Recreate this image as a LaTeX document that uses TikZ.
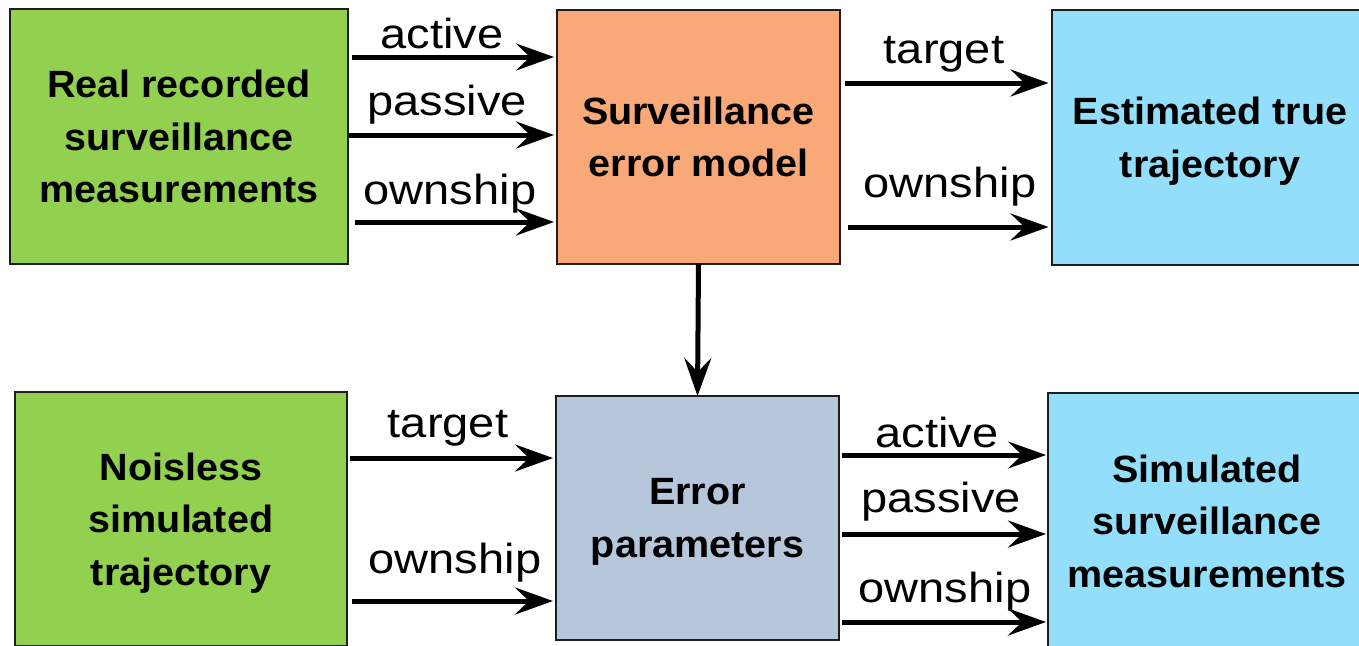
\documentclass[tikz,border=0pt]{standalone}
\usepackage{fontspec}
\usetikzlibrary{arrows.meta}
\newfontfamily\boxfont[FakeStretch=1.04]{Liberation Sans}
\newfontfamily\labfont[FakeStretch=1.12]{Liberation Sans}
\definecolor{cgreen}{HTML}{92D050}
\definecolor{corange}{HTML}{F9A878}
\definecolor{cblue}{HTML}{93DFFB}
\definecolor{cgray}{HTML}{B6C7DB}
\definecolor{cborder}{HTML}{1E1E1E}
\begin{document}
\begin{tikzpicture}[x=1pt,y=-1pt,
  box/.style={draw=cborder,line width=2pt,outer sep=0pt,inner sep=0pt,align=center,text depth=0pt,
    font=\boxfont\bfseries\fontsize{38}{52.5}\selectfont},
  arr/.style={line width=5pt,-{Stealth[length=38pt,width=27pt,inset=14pt]}},
  lab/.style={anchor=base,inner sep=0pt,font=\labfont\fontsize{42}{46}\selectfont}]
\useasboundingbox (0,0) rectangle (1359,645);
\clip (0,0) rectangle (1359,645);
\fill[white] (0,0) rectangle (1359,645);
% boxes
\node[box,fill=cgreen,minimum width=338pt,minimum height=255pt] (A) at (179,136.5) {Real recorded\\surveillance\\measurements};
\node[box,fill=corange,minimum width=283pt,minimum height=254pt] (B) at (698.5,136.5) {Surveillance\\error model};
\node[box,fill=cblue,minimum width=317pt,minimum height=255pt] (C) at (1210,137) {Estimated true\\trajectory};
\node[box,fill=cgreen,minimum width=332pt,minimum height=254pt] (D) at (181,519) {Noisless\\simulated\\trajectory};
\node[box,fill=cgray,minimum width=283pt,minimum height=244pt] (E) at (697.5,518) {Error\\parameters};
\node[box,fill=cblue,minimum width=318pt,minimum height=256pt] (F) at (1207,521) {Simulated\\surveillance\\measurements};
% arrows top-left
\draw[arr] ([xshift=4pt]A.east |- 0,57) -- ([xshift=-3pt]B.west |- 0,57);
\draw[arr] ([xshift=1pt]A.east |- 0,135) -- ([xshift=-3pt]B.west |- 0,135);
\draw[arr] ([xshift=7pt]A.east |- 0,222) -- ([xshift=-3pt]B.west |- 0,222);
\node[lab] (l1) at (442,48) {active};
\node[lab] (l2) at (447,115) {passive};
\node[lab] (l3) at (450,204) {ownship};
% arrows top-right
\draw[arr] ([xshift=5pt]B.east |- 0,83) -- ([xshift=-3pt]C.west |- 0,83);
\draw[arr] ([xshift=8pt]B.east |- 0,227) -- ([xshift=-3pt]C.west |- 0,227);
\node[lab] (l4) at (944,63) {target};
\node[lab] (l5) at (950,197) {ownship};
% vertical
\draw[arr] (B.south) -- (E.north);
% arrows bottom-left
\draw[arr] ([xshift=3pt]D.east |- 0,458) -- ([xshift=-3pt]E.west |- 0,458);
\draw[arr] ([xshift=5pt]D.east |- 0,601) -- ([xshift=-3pt]E.west |- 0,601);
\node[lab] (l6) at (448,437) {target};
\node[lab] (l7) at (455,573) {ownship};
% arrows bottom-right
\draw[arr] ([xshift=3pt]E.east |- 0,455) -- ([xshift=-2pt]F.west |- 0,455);
\draw[arr] ([xshift=3pt]E.east |- 0,534) -- ([xshift=-2pt]F.west |- 0,534);
\draw[arr] ([xshift=3pt]E.east |- 0,622) -- ([xshift=-2pt]F.west |- 0,622);
\node[lab] (l8) at (937,447) {active};
\node[lab] (l9) at (941,512) {passive};
\node[lab] (l10) at (945,602) {ownship};
\end{tikzpicture}
\end{document}
